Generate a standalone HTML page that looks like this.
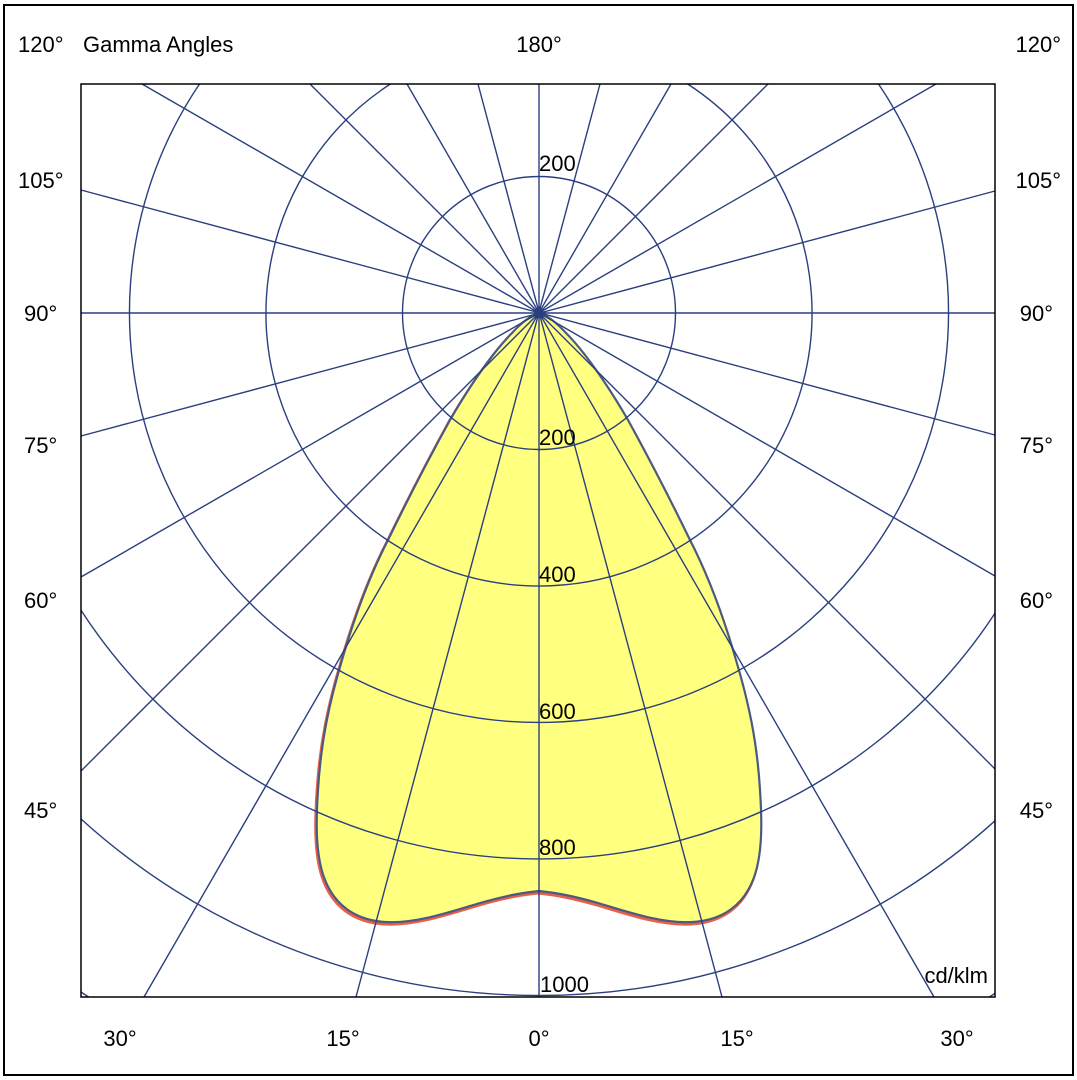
<!DOCTYPE html>
<html><head><meta charset="utf-8"><style>
html,body{margin:0;padding:0;background:#fff;width:1077px;height:1080px;overflow:hidden}
svg{display:block}
text{font-family:"Liberation Sans",sans-serif;font-size:22px;fill:#000}
</style></head><body>
<svg width="1077" height="1080" viewBox="0 0 1077 1080" xmlns="http://www.w3.org/2000/svg">
<rect x="0" y="0" width="1077" height="1080" fill="#fff"/>
<rect x="4" y="5" width="1069" height="1070" fill="none" stroke="#000" stroke-width="2"/>
<path d="M539,891 C520,893 505,896 480,903 C450,912 415,924 385,922 C355,920 335,905 325,880 C315,855 316,820 318,790 C321,740 330,700 342,660 C355,615 370,575 388,540 C405,505 428,460 450,420 C472,382 495,350 512,333 C524,320 532,315 539,313 C546,315 554,320 566,333 C583,350 606,382 628,420 C650,460 673,505 690,540 C708,575 723,615 736,660 C748,700 757,740 760,790 C762,820 763,855 753,880 C743,905 723,920 693,922 C663,924 628,912 598,903 C573,896 558,893 539,891 Z" fill="#ffff80" stroke="#e8604a" stroke-width="3" transform="translate(-1,2)"/>
<path d="M539,891 C520,893 505,896 480,903 C450,912 415,924 385,922 C355,920 335,905 325,880 C315,855 316,820 318,790 C321,740 330,700 342,660 C355,615 370,575 388,540 C405,505 428,460 450,420 C472,382 495,350 512,333 C524,320 532,315 539,313 C546,315 554,320 566,333 C583,350 606,382 628,420 C650,460 673,505 690,540 C708,575 723,615 736,660 C748,700 757,740 760,790 C762,820 763,855 753,880 C743,905 723,920 693,922 C663,924 628,912 598,903 C573,896 558,893 539,891 Z" fill="#ffff80" stroke="#4a5a80" stroke-width="2.2"/>
<g fill="none" stroke="#2a3f7f" stroke-width="1.4">
<circle cx="539" cy="313" r="136.5"/>
<path d="M390.4,84 A273 273 0 1 0 687.6,84"/>
<path d="M199.5,84 A409.5 409.5 0 1 0 878.5,84"/>
<path d="M81,610.2 A546 546 0 0 0 995,613.3"/>
<path d="M81,819 A682.5 682.5 0 0 0 995,820.8"/>
<path d="M81,992 A819 819 0 0 0 88.6,997"/>
<path d="M989.4,997 A819 819 0 0 0 995,993.3"/>
<path d="M539,84 L539,997 M478,84 L722,997 M407,84 L934,997 M310,84 L995,769 M142,84 L995,576 M81,190 L995,435 M81,313 L995,313 M81,436 L995,191 M81,577 L936,84 M81,771 L768,84 M144,997 L671,84 M356,997 L600,84"/>
</g>
<rect x="81" y="84" width="914" height="913" fill="none" stroke="#000" stroke-width="1.5"/>
<text x="18" y="52">120°</text>
<text x="83" y="52">Gamma Angles</text>
<text x="539" y="52" text-anchor="middle">180°</text>
<text x="1061" y="52" text-anchor="end">120°</text>
<text x="18" y="188">105°</text><text x="1061" y="188" text-anchor="end">105°</text>
<text x="24" y="321">90°</text><text x="1053" y="321" text-anchor="end">90°</text>
<text x="24" y="453">75°</text><text x="1053" y="453" text-anchor="end">75°</text>
<text x="24" y="608">60°</text><text x="1053" y="608" text-anchor="end">60°</text>
<text x="24" y="818">45°</text><text x="1053" y="818" text-anchor="end">45°</text>
<text x="120" y="1046" text-anchor="middle">30°</text>
<text x="343" y="1046" text-anchor="middle">15°</text>
<text x="539" y="1046" text-anchor="middle">0°</text>
<text x="737" y="1046" text-anchor="middle">15°</text>
<text x="957" y="1046" text-anchor="middle">30°</text>
<text x="539" y="171">200</text>
<text x="539" y="445">200</text>
<text x="539" y="582">400</text>
<text x="539" y="719">600</text>
<text x="539" y="855">800</text>
<text x="540" y="992">1000</text>
<text x="988" y="983" text-anchor="end">cd/klm</text>
</svg>
</body></html>
